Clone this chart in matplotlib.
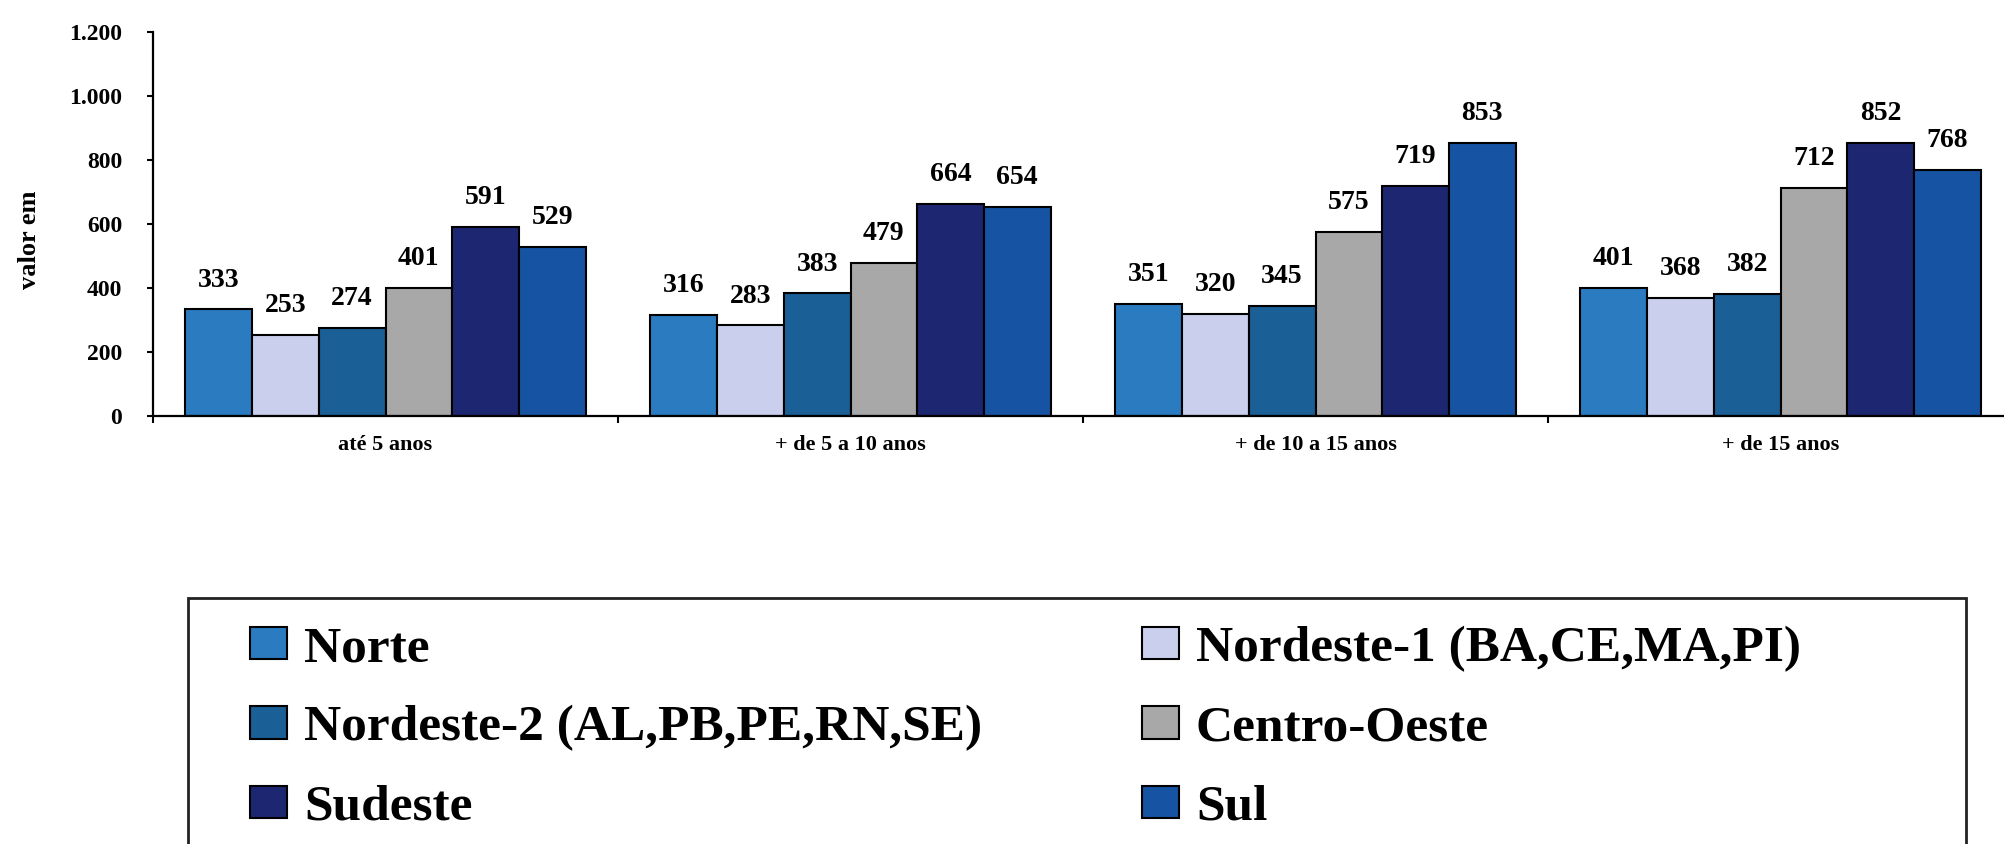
import matplotlib
matplotlib.use('Agg')
import matplotlib.pyplot as plt
import numpy as np
from matplotlib.ticker import FuncFormatter
from matplotlib.patches import Rectangle, Patch

plt.rcParams['font.family'] = ['Liberation Serif', 'DejaVu Serif']
plt.rcParams['font.weight'] = 'bold'

# ---- data ----
categories = ['até 5 anos', '+ de 5 a 10 anos', '+ de 10 a 15 anos', '+ de 15 anos']
series_names = ['Norte', 'Nordeste-1 (BA,CE,MA,PI)', 'Nordeste-2 (AL,PB,PE,RN,SE)',
                'Centro-Oeste', 'Sudeste', 'Sul']
norte = [333, 316, 351, 401]
nordeste1 = [253, 283, 320, 368]
nordeste2 = [274, 383, 345, 382]
centro_oeste = [401, 479, 575, 712]
sudeste = [591, 664, 719, 852]
sul = [529, 654, 853, 768]
colors = ['#2B7BC0', '#CBCFEE', '#1A5F95', '#A8A8A8', '#1D2671', '#1653A3']
y_ticks = [0, 200, 400, 600, 800, 1000, 1200]

series_values = [norte, nordeste1, nordeste2, centro_oeste, sudeste, sul]

W, H = 2004, 844
fig = plt.figure(figsize=(W / 100, H / 100), dpi=100)
ax = fig.add_axes([153 / W, 428 / H, 1860 / W, 384 / H])

x = np.arange(len(categories)) + 0.5
bw = 0.1434
for i, (name, vals, col) in enumerate(zip(series_names, series_values, colors)):
    bars = ax.bar(x + (i - 2.5) * bw, vals, bw, color=col, edgecolor='black',
                  linewidth=1.5, label=name)
    for rect, v in zip(bars, vals):
        ax.annotate(f'{v}', (rect.get_x() + rect.get_width() / 2, v),
                    xytext=(0, 16.5), textcoords='offset points',
                    ha='center', va='baseline', fontsize=20, fontweight='bold')

ax.set_xlim(0, len(categories))
ax.set_ylim(0, 1200)
for s in ['top', 'right']:
    ax.spines[s].set_visible(False)
for s in ['left', 'bottom']:
    ax.spines[s].set_linewidth(1.6)
    ax.spines[s].set_clip_on(False)

ax.set_yticks(y_ticks)
ax.yaxis.set_major_formatter(FuncFormatter(lambda v, p: f'{int(v):,}'.replace(',', '.')))
ax.tick_params(axis='y', length=4.3, width=1.5, pad=18, labelsize=17)

ax.set_xticks(np.arange(len(categories) + 1))
ax.set_xticklabels([])
ax.set_xticks(x, minor=True)
ax.set_xticklabels(categories, minor=True)
ax.tick_params(axis='x', which='major', length=5, width=1.5, direction='out')
ax.tick_params(axis='x', which='minor', length=0, pad=14, labelsize=16)

ax.set_ylabel('valor em', fontsize=19, fontweight='bold', va='center')
ax.yaxis.set_label_coords((30 - 153) / 1860, (416 - 240) / 384)

# legend frame
fig.add_artist(Rectangle((188 / W, -0.1), (1966 - 188) / W, (844 - 598) / H + 0.1,
                         transform=fig.transFigure, fill=False, edgecolor='#222222',
                         linewidth=2, clip_on=False))

handles = [Patch(facecolor=c, edgecolor='black', linewidth=1.5) for c in colors]
common = dict(loc='upper left', frameon=False, borderpad=0, borderaxespad=0,
              prop={'weight': 'bold', 'size': 37}, handlelength=0.72,
              handleheight=0.6, handletextpad=0.33, labelspacing=0.65)
fig.legend(handles[0::2], series_names[0::2], bbox_to_anchor=(250 / W, 1 - 626 / H), **common)
fig.legend(handles[1::2], series_names[1::2], bbox_to_anchor=(1142 / W, 1 - 626 / H), **common)

fig.savefig('out.png', dpi=100)
